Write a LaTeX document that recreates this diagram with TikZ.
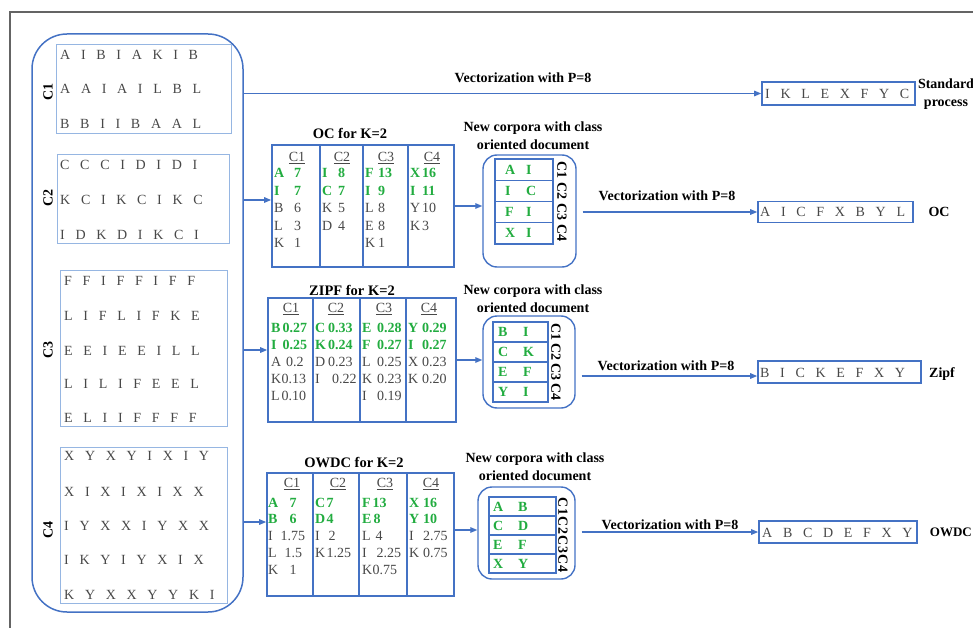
\documentclass[tikz,border=0pt]{standalone}
\usepackage{fontspec}
\setmainfont{Liberation Serif}
\usetikzlibrary{arrows.meta}

\definecolor{lineblue}{RGB}{68,114,196}
\definecolor{paleblue}{RGB}{150,182,226}
\definecolor{tgreen}{RGB}{34,172,64}
\definecolor{tgray}{RGB}{72,72,72}
\definecolor{framegray}{RGB}{100,100,100}

% one table entry: term in a box of fixed width, then its score
\newcommand{\gr}[3]{\textcolor{tgreen}{\bfseries\makebox[#1][l]{#2}#3}}
\newcommand{\gy}[3]{\makebox[#1][l]{#2}#3}
\newcommand{\duo}[3]{\makebox[#1][l]{#2}#3}
\newcommand{\seqfont}{\fontsize{14}{17}\selectfont\spaceskip=10.7pt\relax}

\tikzset{
  seq/.style={anchor=base west, inner sep=0pt, text=tgray, font=\seqfont},
  holder/.style={draw=lineblue, line width=1.5pt, inner sep=0pt},
  pane/.style={draw=paleblue, line width=1pt, inner sep=0pt},
  tabframe/.style={draw=lineblue, line width=1.6pt, inner sep=0pt},
  cellbox/.style={draw=lineblue, line width=1.4pt, inner sep=0pt},
  outbox/.style={draw=lineblue, line width=1.6pt, inner sep=0pt},
  arr/.style={draw=lineblue, line width=1.3pt, -{Triangle[length=7pt,width=5.5pt]}},
  lbl/.style={font=\fontsize{14}{18}\selectfont\bfseries, inner sep=0pt, align=center},
  ttl/.style={font=\fontsize{14.5}{17}\selectfont\bfseries, inner sep=0pt},
  hdr/.style={font=\fontsize{14}{17}\selectfont, text=tgray, inner sep=0pt},
  tcol/.style={anchor=base west, inner sep=0pt, text=tgray},
  side/.style={font=\fontsize{14}{17}\selectfont\bfseries, inner sep=0pt},
  pairtxt/.style={anchor=west, inner sep=0pt, text=tgreen, font=\fontsize{14}{17}\selectfont\bfseries},
}

\begin{document}
\begin{tikzpicture}[x=1pt, y=-1pt]
\useasboundingbox (0,0) rectangle (973,628);

% page frame
\draw[framegray, line width=2pt] (10,628) -- (10,12) -- (973,12);

% ---------- original corpus ----------
\node[holder, rounded corners=35pt, minimum width=211pt, minimum height=578pt] (corpus) at (137.5,323) {};
\node[pane, minimum width=175pt, minimum height=89pt] (p1) at (143.5,89.5) {};
\node[pane, minimum width=172pt, minimum height=88pt] (p2) at (143,199) {};
\node[pane, minimum width=167pt, minimum height=156pt] (p3) at (143.5,348) {};
\node[pane, minimum width=167pt, minimum height=156pt] (p4) at (143.5,525) {};

\node[side, rotate=90] (l1) at (48,92) {C1};
\node[side, rotate=90] (l2) at (48,198) {C2};
\node[side, rotate=90] (l3) at (48,350) {C3};
\node[side, rotate=90] (l4) at (48,530) {C4};

\node[seq] (r11) at (60,60) {A I B I A K I B};
\node[seq] (r12) at (60,94) {A A I A I L B L};
\node[seq] (r13) at (60,129) {B B I I B A A L};

\node[seq] (r21) at (60,170) {C C C I D I D I};
\node[seq] (r22) at (60,205) {K C I K C I K C};
\node[seq] (r23) at (60,239) {I D K D I K C I};

\node[seq] (r31) at (64,285) {F F I F F I F F};
\node[seq] (r32) at (64,320) {L I F L I F K E};
\node[seq] (r33) at (64,355) {E E I E E I L L};
\node[seq] (r34) at (64,388) {L I L I F E E L};
\node[seq] (r35) at (64,422) {E L I I F F F F};

\node[seq] (r41) at (64,460) {X Y X Y I X I Y};
\node[seq] (r42) at (64,496) {X I X I X I X X};
\node[seq] (r43) at (64,530) {I Y X X I Y X X};
\node[seq] (r44) at (64,564) {I K Y I Y X I X};
\node[seq] (r45) at (64,599) {K Y X X Y Y K I};

% ---------- standard process ----------
\node[outbox, minimum width=153pt, minimum height=23pt] (stdout) at (838.5,93.5) {};
\node[seq] (stdtxt) at (765,98.5) {I K L E X F Y C};
\node[lbl] (stdlbl) at (946,94) {Standard\\process};
\node[lbl] (vstd) at (523,78) {Vectorization with P=8};
\draw[arr] (corpus.east |- stdout.west) -- (stdout.west);

% ---------- OC ----------
\node[tabframe, minimum width=182pt, minimum height=122pt] (octab) at (363,206) {};
\foreach \xx in {320,363,408} \draw[lineblue, line width=1.6pt] (octab.north -| \xx,0) -- (octab.south -| \xx,0);
\node[ttl] (octtl) at (350,133) {OC for K=2};
\node[hdr] (oh1) at (297,158) {\underline{C1}};
\node[hdr] (oh2) at (342,158) {\underline{C2}};
\node[hdr] (oh3) at (386,158) {\underline{C3}};
\node[hdr] (oh4) at (432,158) {\underline{C4}};
\begingroup
\fontsize{14}{17.5}\selectfont
\node[tcol] (oc1) at (274,178) {\begin{tabular}[t]{@{}l@{}}\gr{20pt}{A}{7}\\\gr{20pt}{I}{7}\\\gy{20pt}{B}{6}\\\gy{20pt}{L}{3}\\\gy{20pt}{K}{1}\end{tabular}};
\node[tcol] (oc2) at (322,178) {\begin{tabular}[t]{@{}l@{}}\gr{16pt}{I}{8}\\\gr{16pt}{C}{7}\\\gy{16pt}{K}{5}\\\gy{16pt}{D}{4}\end{tabular}};
\node[tcol] (oc3) at (365,178) {\begin{tabular}[t]{@{}l@{}}\gr{13pt}{F}{13}\\\gr{13pt}{I}{9}\\\gy{13pt}{L}{8}\\\gy{13pt}{E}{8}\\\gy{13pt}{K}{1}\end{tabular}};
\node[tcol] (oc4) at (410,178) {\begin{tabular}[t]{@{}l@{}}\gr{12pt}{X}{16}\\\gr{12pt}{I}{11}\\\gy{12pt}{Y}{10}\\\gy{12pt}{K}{3}\end{tabular}};
\endgroup

\node[lbl] (ocnewttl) at (533,136) {New corpora with class\\oriented document};
\node[holder, rounded corners=14pt, line width=1.4pt, minimum width=93pt, minimum height=112pt] (ocnew) at (529.5,211) {};
\foreach \cy/\a/\b/\k [count=\i] in {169.6/A/I/C1, 190.9/I/C/C2, 212.1/F/I/C3, 233.4/X/I/C4} {
  \node[cellbox, minimum width=58pt, minimum height=21.25pt] (occ\i) at (524,\cy) {};
  \node[pairtxt] (ocp\i) at (505,\cy) {\duo{21pt}{\a}{\b}};
  \node[side, rotate=-90] (ock\i) at (562,\cy) {\k};
}
\coordinate (oclevel) at (0,200);
\draw[arr] (corpus.east |- oclevel) -- (octab.west |- oclevel);
\draw[arr] (octab.east) -- (octab.east -| ocnew.west);

\node[outbox, minimum width=155pt, minimum height=21pt] (ocout) at (835.5,212) {};
\node[seq] (octxt) at (760,217) {A I C F X B Y L};
\node[lbl] (oclbl) at (939,212) {OC};
\node[lbl] (voc) at (667,196) {Vectorization with P=8};
\draw[arr, shorten <=6pt] (ocnew.east |- ocout.west) -- (ocout.west);

% ---------- ZIPF ----------
\node[tabframe, minimum width=188pt, minimum height=124pt] (ztab) at (362,360) {};
\foreach \xx in {313,360,406} \draw[lineblue, line width=1.6pt] (ztab.north -| \xx,0) -- (ztab.south -| \xx,0);
\node[ttl] (zttl) at (352,290) {ZIPF for K=2};
\node[hdr] (zh1) at (291,309) {\underline{C1}};
\node[hdr] (zh2) at (336,309) {\underline{C2}};
\node[hdr] (zh3) at (384,309) {\underline{C3}};
\node[hdr] (zh4) at (429,309) {\underline{C4}};
\begingroup
\fontsize{14}{17}\selectfont
\node[tcol] (zc1) at (271,332) {\begin{tabular}[t]{@{}l@{}}\gr{11.5pt}{B}{0.27}\\\gr{11.5pt}{I}{0.25}\\\gy{10pt}{A}{\hspace{5pt}0.2}\\\gy{10.5pt}{K}{0.13}\\\gy{10.5pt}{L}{0.10}\end{tabular}};
\node[tcol] (zc2) at (315,332) {\begin{tabular}[t]{@{}l@{}}\gr{13pt}{C}{0.33}\\\gr{13pt}{K}{0.24}\\\gy{13pt}{D}{0.23}\\\gy{13pt}{I}{\hspace{4pt}0.22}\end{tabular}};
\node[tcol] (zc3) at (362,332) {\begin{tabular}[t]{@{}l@{}}\gr{15pt}{E}{0.28}\\\gr{15pt}{F}{0.27}\\\gy{15pt}{L}{0.25}\\\gy{15pt}{K}{0.23}\\\gy{15pt}{I}{0.19}\end{tabular}};
\node[tcol] (zc4) at (408,332) {\begin{tabular}[t]{@{}l@{}}\gr{14pt}{Y}{0.29}\\\gr{14pt}{I}{0.27}\\\gy{14pt}{X}{0.23}\\\gy{14pt}{K}{0.20}\end{tabular}};
\endgroup

\node[lbl] (znewttl) at (533,299) {New corpora with class\\oriented document};
\node[holder, rounded corners=14pt, line width=1.4pt, minimum width=92pt, minimum height=92pt] (znew) at (529,362) {};
\foreach \cy/\a/\b/\k [count=\i] in {332/B/I/C1, 352/C/K/C2, 372/E/F/C3, 392/Y/I/C4} {
  \node[cellbox, minimum width=55pt, minimum height=20pt] (zcc\i) at (520.5,\cy) {};
  \node[pairtxt] (zp\i) at (498,\cy) {\duo{25pt}{\a}{\b}};
  \node[side, rotate=-90] (zk\i) at (556,\cy) {\k};
}
\coordinate (zlevel) at (0,350);
\draw[arr] (corpus.east |- zlevel) -- (ztab.west |- zlevel);
\draw[arr] (ztab.east) -- (ztab.east -| znew.west);

\node[outbox, minimum width=163pt, minimum height=22pt] (zout) at (839.5,372) {};
\node[seq] (ztxt) at (760,377) {B I C K E F X Y};
\node[lbl, anchor=base] (zlbl) at (942,377) {Zipf};
\node[lbl] (vz) at (666,366) {Vectorization with P=8};
\coordinate (zvec) at (0,376);
\draw[arr, shorten <=6pt] (znew.east |- zvec) -- (zout.west |- zvec);

% ---------- OWDC ----------
\node[tabframe, minimum width=187pt, minimum height=123pt] (wtab) at (360.5,534.5) {};
\foreach \xx in {313,359,407} \draw[lineblue, line width=1.6pt] (wtab.north -| \xx,0) -- (wtab.south -| \xx,0);
\node[ttl] (wttl) at (354,463) {OWDC for K=2};
\node[hdr] (wh1) at (292,484) {\underline{C1}};
\node[hdr] (wh2) at (338,484) {\underline{C2}};
\node[hdr] (wh3) at (385,484) {\underline{C3}};
\node[hdr] (wh4) at (431,484) {\underline{C4}};
\begingroup
\fontsize{14}{16.8}\selectfont
\node[tcol] (wc1) at (268,507) {\begin{tabular}[t]{@{}l@{}}\gr{12.5pt}{A}{\hspace{9pt}7}\\\gr{12.5pt}{B}{\hspace{9pt}6}\\\gy{12.5pt}{I}{1.75}\\\gy{12.5pt}{L}{\hspace{4pt}1.5}\\\gy{12.5pt}{K}{\hspace{9pt}1}\end{tabular}};
\node[tcol] (wc2) at (315,507) {\begin{tabular}[t]{@{}l@{}}\gr{11.5pt}{C}{7}\\\gr{11.5pt}{D}{4}\\\gy{11.5pt}{I}{\hspace{2pt}2}\\\gy{11.5pt}{K}{1.25}\end{tabular}};
\node[tcol] (wc3) at (362,507) {\begin{tabular}[t]{@{}l@{}}\gr{10.5pt}{F}{13}\\\gr{10.5pt}{E}{\hspace{1pt}8}\\\gy{10.5pt}{L}{\hspace{3pt}4}\\\gy{10.5pt}{I}{\hspace{4pt}2.25}\\\gy{10.5pt}{K}{0.75}\end{tabular}};
\node[tcol] (wc4) at (409,507) {\begin{tabular}[t]{@{}l@{}}\gr{14pt}{X}{16}\\\gr{14pt}{Y}{10}\\\gy{14pt}{I}{2.75}\\\gy{14pt}{K}{0.75}\end{tabular}};
\endgroup

\node[lbl] (wnewttl) at (535,467) {New corpora with class\\oriented document};
\node[holder, rounded corners=14pt, line width=1.4pt, minimum width=97pt, minimum height=92pt] (wnew) at (526.5,533) {};
\foreach \cy/\a/\b/\k [count=\i] in {506.5/A/B/C1, 525.5/C/D/C2, 544.5/E/F/C3, 563.5/X/Y/C4} {
  \node[cellbox, minimum width=67pt, minimum height=19pt] (wcc\i) at (522.5,\cy) {};
  \node[pairtxt] (wp\i) at (493,\cy) {\duo{25pt}{\a}{\b}};
  \node[side, rotate=-90] (wk\i) at (563,\cy) {\k};
}
\coordinate (wlevel) at (0,522);
\draw[arr] (corpus.east |- wlevel) -- (wtab.west |- wlevel);
\coordinate (wlink) at (0,530);
\draw[arr] (wtab.east |- wlink) -- (wnew.west |- wlink);

\node[outbox, minimum width=158pt, minimum height=22pt] (wout) at (838,532) {};
\node[seq] (wtxt) at (762,537) {A B C D E F X Y};
\node[lbl, anchor=east, font=\fontsize{13}{16}\selectfont\bfseries] (wlbl) at (972,532) {OWDC};
\node[lbl] (vw) at (670,525) {Vectorization with P=8};
\draw[arr, shorten <=6pt] (wnew.east |- wout.west) -- (wout.west);

\end{tikzpicture}
\end{document}
